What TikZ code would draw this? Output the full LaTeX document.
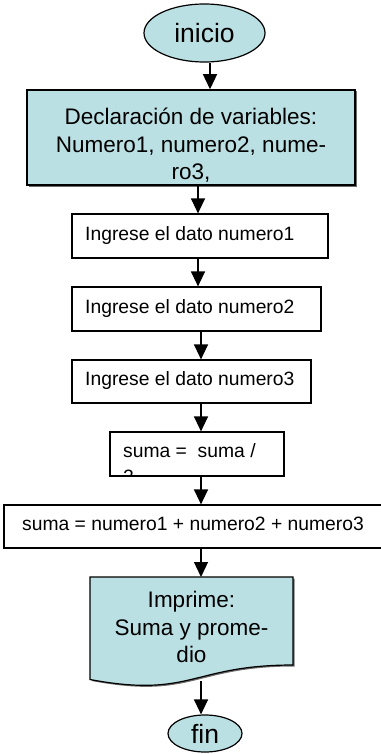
\documentclass[tikz,border=0pt]{standalone}
\usepackage{fontspec}
\setmainfont{Liberation Sans}
\usetikzlibrary{arrows.meta,shapes.geometric,calc}
\definecolor{flowfill}{RGB}{187,224,227}
\definecolor{shadowgray}{RGB}{110,110,110}
\tikzset{
  x=1pt,y=-1pt,
  arr/.style={draw=black,line width=1.3pt,-{Triangle[length=15pt,width=14pt]}},
  procbox/.style={draw=black,line width=1.2pt,fill=white,rectangle,inner sep=0pt},
  declbox/.style={draw=black,line width=1.5pt,fill=flowfill,rectangle,inner sep=0pt},
  term/.style={draw=black,line width=1.2pt,fill=flowfill,ellipse,inner sep=0pt,
    font=\fontsize{26.5}{30}\selectfont},
  smalltext/.style={font=\fontsize{19.3}{23}\selectfont,inner sep=0pt},
  bigtext/.style={font=\fontsize{22.5}{27.5}\selectfont,inner sep=0pt,align=center},
}
\begin{document}
\begin{tikzpicture}
\useasboundingbox (0,0) rectangle (380,754);

% terminal: start
\node[term,minimum width=121pt,minimum height=58pt] (inicio) at (204.5,33) {inicio};

% declaration block with a slight shadow
\fill[shadowgray] (28.5,91.5) rectangle (356.5,186.5);
\node[declbox,minimum width=328pt,minimum height=95pt] (decl) at (191,137.5) {};
\node[bigtext,anchor=north] (decltext) at (191,108)
  {Declaración de variables:\\Numero1, numero2, nume-\\ro3,};

% input steps
\node[procbox,minimum width=256pt,minimum height=44pt] (in1) at (200,236) {};
\node[smalltext,anchor=base west] (in1text) at (85,240) {Ingrese el dato numero1};
\node[procbox,minimum width=249pt,minimum height=44pt] (in2) at (196.5,309) {};
\node[smalltext,anchor=base west] (in2text) at (85,313) {Ingrese el dato numero2};
\node[procbox,minimum width=239pt,minimum height=43pt] (in3) at (191.5,381.5) {};
\node[smalltext,anchor=base west] (in3text) at (85,385) {Ingrese el dato numero3};

% average step, its text cut off by the box
\node[procbox,minimum width=174pt,minimum height=44pt] (avg) at (197,454) {};
\begin{scope}
  \clip (avg.south west) rectangle (avg.north east);
  \node[smalltext,anchor=north west,align=left,
        font=\fontsize{19.3}{26}\selectfont] (avgtext) at (123,443.5)
    {suma = \ suma /\\2};
\end{scope}

% sum step
\node[procbox,minimum width=382pt,minimum height=43pt] (sum) at (195,526.5) {};
\node[smalltext,anchor=base west] (sumtext) at (22,530)
  {suma = numero1 + numero2 + numero3};

% output document with wavy bottom
\coordinate (docNW) at (90,577);
\coordinate (docNE) at (293,577);
\coordinate (docSE) at (293,665);
\coordinate (docSW) at (90,679.5);
\coordinate (docbottom) at (201,681);
\fill[shadowgray] ($(docNW)+(1.5,1.5)$) -- ($(docNE)+(1.5,1.5)$) -- ($(docSE)+(1.5,1.5)$)
  .. controls (193,666.5) and (193,700) .. ($(docSW)+(1.5,1.5)$) -- cycle;
\draw[line width=1.2pt,fill=flowfill] (docNW) -- (docNE) -- (docSE)
  .. controls (191.5,665) and (191.5,698.5) .. (docSW) -- cycle;
\node[bigtext,anchor=north] (doctext) at (191.5,591)
  {Imprime:\\Suma y prome-\\dio};

% terminal: end
\node[term,minimum width=74pt,minimum height=37pt] (fin) at (205,733.5) {fin};

% connectors
\draw[arr] (inicio.south -| 210,0) -- (decl.north -| 210,0);
\draw[arr] (decl.south -| 198,0) -- (in1.north -| 198,0);
\draw[arr] (in1.south -| 198,0) -- (in2.north -| 198,0);
\draw[arr] (in2.south -| 201,0) -- (in3.north -| 201,0);
\draw[arr] (in3.south -| 201,0) -- (avg.north -| 201,0);
\draw[arr] (avg.south -| 201,0) -- (sum.north -| 201,0);
\draw[arr] (sum.south -| 201,0) -- (docNW -| 201,0);
\draw[arr] (docbottom) -- (fin.north -| 201,0);
\end{tikzpicture}
\end{document}
